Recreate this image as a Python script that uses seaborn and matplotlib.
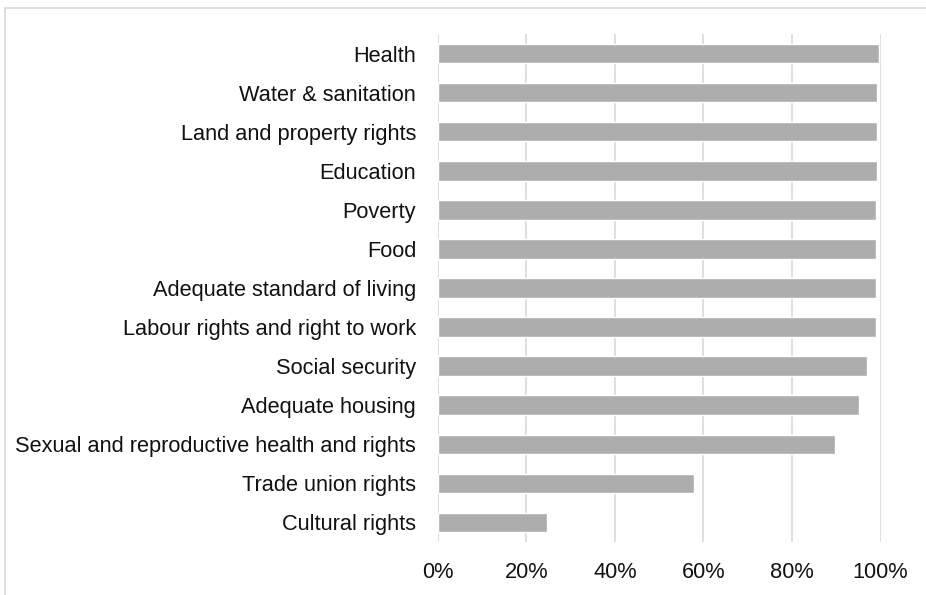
import matplotlib
matplotlib.use("Agg")
import matplotlib.pyplot as plt
from matplotlib.lines import Line2D
from matplotlib.ticker import FuncFormatter
import seaborn as sns
import pandas as pd

categories = [
    "Health",
    "Water & sanitation",
    "Land and property rights",
    "Education",
    "Poverty",
    "Food",
    "Adequate standard of living",
    "Labour rights and right to work",
    "Social security",
    "Adequate housing",
    "Sexual and reproductive health and rights",
    "Trade union rights",
    "Cultural rights",
]
shares = [99.6, 99.2, 99.2, 99.2, 98.9, 98.9, 98.9, 98.9, 97.0, 95.1, 89.7, 57.8, 24.6]
x_ticks = [0, 20, 40, 60, 80, 100]

df = pd.DataFrame({"category": categories, "share": shares})

sns.set_theme(style="white")
plt.rcParams["font.family"] = ["Liberation Sans", "DejaVu Sans"]

fig = plt.figure(figsize=(9.26, 5.95), dpi=100)
ax = fig.add_axes([0.4727, 0.0891, 0.951 - 0.4727, 0.9429 - 0.0891])

sns.barplot(data=df, x="share", y="category", orient="h", color="#adadad",
            saturation=1, width=0.5, ax=ax, order=categories)

ax.set_xlim(0, 100)
ax.set_ylim(len(categories) - 0.5, -0.5)
ax.set_xticks(x_ticks)
ax.xaxis.set_major_formatter(FuncFormatter(lambda v, _: f"{v:.0f}%"))
ax.grid(axis="x", color="#d9d9d9", linewidth=1.2)
ax.set_axisbelow(True)
for s in ax.spines.values():
    s.set_visible(False)
ax.set_xlabel("")
ax.set_ylabel("")
ax.tick_params(axis="y", length=0, pad=15.5, labelsize=15.7, labelcolor="#111111")
ax.tick_params(axis="x", length=0, pad=14.5, labelsize=15.7, labelcolor="#111111")

# light outer frame of the chart area
fig.add_artist(Line2D([5 / 926, 5 / 926], [0, 1 - 8 / 595], transform=fig.transFigure,
                      color="#d9d9d9", linewidth=1.2))
fig.add_artist(Line2D([5 / 926, 1], [1 - 8 / 595, 1 - 8 / 595], transform=fig.transFigure,
                      color="#d9d9d9", linewidth=1.2))

fig.savefig("out.png", dpi=100)
